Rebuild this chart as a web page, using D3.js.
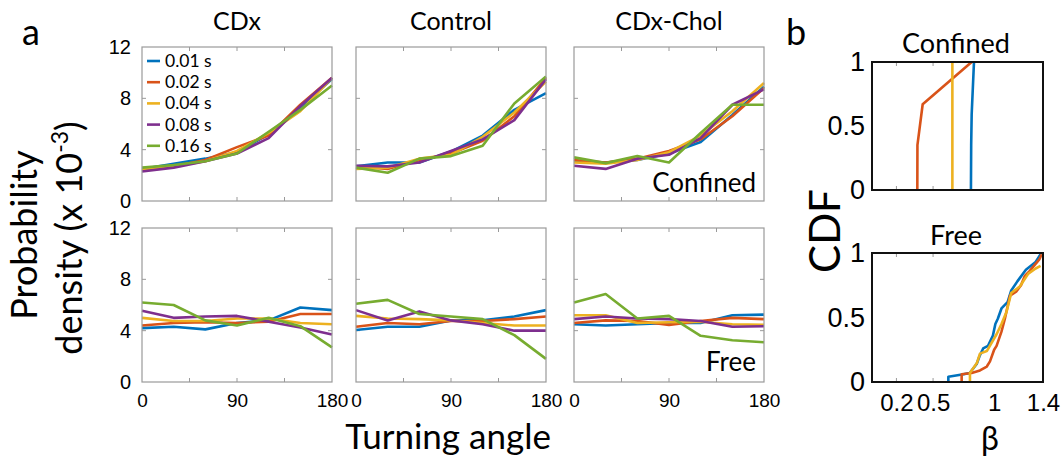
<!DOCTYPE html>
<html>
<head>
<meta charset="utf-8">
<script src="https://cdn.jsdelivr.net/npm/d3@7"></script>
<style>
  body { margin: 0; background: #fff; }
  svg { font-family: Lato, "Open Sans", sans-serif; }
</style>
</head>
<body>
<script>
// turning angle bins (deg)
const angles = [0, 30, 60, 90, 120, 150, 180];
const lagLabels = ["0.01 s", "0.02 s", "0.04 s", "0.08 s", "0.16 s"];
const colors = ["#0072BD", "#D95319", "#EDB120", "#7E2F8E", "#77AC30"];
const groupTitles = ["CDx", "Control", "CDx-Chol"];

// probability density (x 10^-3), one row per lag
const cdxConfined = [
    [2.5, 2.9, 3.3, 3.8, 5.2, 7.3, 9.5],
    [2.4, 2.7, 3.2, 4.2, 5.1, 7.5, 9.6],
    [2.5, 2.7, 3.1, 3.9, 5.3, 7.0, 9.6],
    [2.3, 2.6, 3.1, 3.7, 4.9, 7.4, 9.6],
    [2.6, 2.8, 3.1, 3.7, 5.4, 7.1, 9.0]
];
const controlConfined = [
    [2.7, 3.0, 3.0, 3.85, 5.1, 7.1, 8.4],
    [2.7, 2.5, 3.2, 3.7, 4.7, 6.6, 9.6],
    [2.5, 2.6, 3.3, 3.6, 5.0, 6.9, 9.3],
    [2.75, 2.7, 3.0, 3.9, 4.8, 6.3, 9.5],
    [2.6, 2.2, 3.3, 3.5, 4.3, 7.6, 9.7]
];
const cholConfined = [
    [3.1, 3.0, 3.2, 3.7, 4.6, 6.7, 8.9],
    [3.2, 3.0, 3.3, 3.9, 4.8, 6.6, 8.8],
    [3.0, 2.9, 3.2, 3.8, 5.1, 7.0, 9.2],
    [2.75, 2.5, 3.3, 3.6, 4.9, 7.5, 8.7],
    [3.4, 2.95, 3.5, 3.0, 5.3, 7.5, 7.5]
];
const cdxFree = [
    [4.2, 4.3, 4.1, 4.6, 4.8, 5.8, 5.6],
    [4.4, 4.6, 4.65, 4.6, 4.7, 5.3, 5.3],
    [5.0, 4.75, 4.75, 4.95, 4.95, 4.6, 4.5],
    [5.55, 5.0, 5.1, 5.15, 4.7, 4.25, 3.7],
    [6.2, 6.0, 4.8, 4.4, 5.0, 4.35, 2.7]
];
const controlFree = [
    [4.05, 4.3, 4.3, 4.8, 4.8, 5.1, 5.6],
    [4.3, 4.6, 4.5, 4.75, 4.75, 4.9, 5.1],
    [5.15, 4.95, 4.9, 4.8, 4.6, 4.4, 4.4],
    [5.6, 4.8, 5.5, 4.8, 4.5, 4.0, 4.0],
    [6.1, 6.4, 5.3, 5.1, 4.9, 3.65, 1.8]
];
const cholFree = [
    [4.5, 4.4, 4.5, 4.6, 4.6, 5.2, 5.25],
    [4.6, 4.8, 4.75, 4.45, 4.75, 5.0, 4.9],
    [5.2, 5.2, 4.6, 4.65, 4.7, 4.5, 4.45],
    [4.9, 5.1, 4.95, 4.9, 4.75, 4.3, 4.35],
    [6.2, 6.85, 4.95, 5.15, 3.6, 3.25, 3.1]
];

const densityTicks = [0, 4, 8, 12];
const angleTicks = [0, 90, 180];

// CDF of beta, [beta, cdf] pairs
const cdfConfinedBlue = [[0.81, 0], [0.812, 0.35], [0.816, 0.59], [0.835, 1]];
const cdfConfinedOrange = [[0.371, 0], [0.372, 0.35], [0.415, 0.67], [0.816, 1]];
const cdfConfinedYellow = [[0.658, 0], [0.658, 1]];
const cdfFreeBlue = [[0.625, 0], [0.625, 0.04], [0.75, 0.06], [0.8, 0.07], [0.857, 0.14], [0.88, 0.2],
    [0.91, 0.26], [0.95, 0.28], [0.99, 0.36], [1.01, 0.45], [1.03, 0.49], [1.06, 0.57], [1.11, 0.62],
    [1.14, 0.71], [1.19, 0.78], [1.26, 0.87], [1.34, 0.93], [1.38, 0.99]];
const cdfFreeOrange = [[0.734, 0], [0.734, 0.06], [0.816, 0.07], [0.884, 0.09], [0.94, 0.12], [0.966, 0.16],
    [1.0, 0.25], [1.02, 0.28], [1.06, 0.39], [1.088, 0.49], [1.13, 0.67], [1.18, 0.70], [1.22, 0.75],
    [1.25, 0.82], [1.29, 0.86], [1.37, 0.95], [1.39, 0.99]];
const cdfFreeYellow = [[0.802, 0], [0.802, 0.07], [0.86, 0.15], [0.884, 0.22], [0.94, 0.24], [1.02, 0.37],
    [1.06, 0.45], [1.10, 0.54], [1.14, 0.69], [1.21, 0.74], [1.28, 0.84], [1.34, 0.88], [1.38, 0.90]];
const betaTicks = [0.2, 0.5, 1, 1.4];
const cdfTicks = [0, 0.5, 1];

const width = 1064;
const height = 456;

const svg = d3.select("body").append("svg")
    .attr("width", width)
    .attr("height", height);

const colLeft = [142, 356, 574];
const rowTop = [47, 228];
const pw = 190, ph = 154;

const panels = [
    [cdxConfined, controlConfined, cholConfined],
    [cdxFree, controlFree, cholFree]
];

function drawBox(g, w, h, color, sw) {
    g.append("rect")
        .attr("width", w).attr("height", h)
        .attr("fill", "none")
        .attr("stroke", color)
        .attr("stroke-width", sw);
}

function innerTicks(g, x, y, xt, yt, w, h, color) {
    // tick marks on all four sides, pointing inward
    const t = g.append("g").attr("stroke", color).attr("stroke-width", 1);
    xt.forEach(v => {
        t.append("line").attr("x1", x(v)).attr("x2", x(v)).attr("y1", h).attr("y2", h - 4);
        t.append("line").attr("x1", x(v)).attr("x2", x(v)).attr("y1", 0).attr("y2", 4);
    });
    yt.forEach(v => {
        t.append("line").attr("y1", y(v)).attr("y2", y(v)).attr("x1", 0).attr("x2", 4);
        t.append("line").attr("y1", y(v)).attr("y2", y(v)).attr("x1", w).attr("x2", w - 4);
    });
}

panels.forEach((row, r) => {
    row.forEach((series, c) => {
        const g = svg.append("g").attr("transform", `translate(${colLeft[c]},${rowTop[r]})`);
        const x = d3.scaleLinear().domain([0, 180]).range([0, pw]);
        const y = d3.scaleLinear().domain([0, 12]).range([ph, 0]);

        innerTicks(g, x, y, [45, 90, 135], [4, 8], pw, ph, "#9a9a9a");

        const line = d3.line().x((d, i) => x(angles[i])).y(d => y(d));
        series.forEach((s, k) => {
            g.append("path")
                .attr("d", line(s))
                .attr("fill", "none")
                .attr("stroke", colors[k])
                .attr("stroke-width", 2.6)
                .attr("stroke-linejoin", "round");
        });

        drawBox(g, pw, ph, "#9a9a9a", 1.2);

        if (c === 0) {
            const ya = g.append("g")
                .call(d3.axisLeft(y).tickValues(densityTicks).tickSize(0).tickPadding(11));
            ya.select(".domain").remove();
            ya.selectAll("text").attr("font-size", 20).attr("fill", "#000");
        }
        if (r === 1) {
            const xa = g.append("g")
                .attr("transform", `translate(0,${ph})`)
                .call(d3.axisBottom(x).tickValues(angleTicks).tickSize(0).tickPadding(12));
            xa.select(".domain").remove();
            xa.selectAll("text").attr("font-size", 19).attr("fill", "#000");
        }
        if (r === 0) {
            svg.append("text")
                .attr("x", colLeft[c] + pw / 2)
                .attr("y", 30)
                .attr("text-anchor", "middle")
                .attr("font-size", 25)
                .text(groupTitles[c]);
        }
    });
});

// legend in first panel
const legend = svg.append("g").attr("transform", `translate(${colLeft[0]},${rowTop[0]})`);
lagLabels.forEach((lab, k) => {
    const ly = 14 + k * 21.2;
    legend.append("line")
        .attr("x1", 5).attr("x2", 18).attr("y1", ly).attr("y2", ly)
        .attr("stroke", colors[k]).attr("stroke-width", 2.6);
    legend.append("text")
        .attr("x", 23).attr("y", ly + 6)
        .attr("font-size", 17.5)
        .text(lab);
});

svg.append("text").attr("x", colLeft[2] + pw - 8).attr("y", rowTop[0] + ph - 9)
    .attr("text-anchor", "end").attr("font-size", 26).text("Confined");
svg.append("text").attr("x", colLeft[2] + pw - 8).attr("y", rowTop[1] + ph - 11)
    .attr("text-anchor", "end").attr("font-size", 26).text("Free");

svg.append("text").attr("x", 448).attr("y", 449)
    .attr("text-anchor", "middle").attr("font-size", 35).text("Turning angle");

svg.append("text")
    .attr("transform", "translate(37,235) rotate(-90)")
    .attr("text-anchor", "middle").attr("font-size", 36).text("Probability");
const dl = svg.append("text")
    .attr("transform", "translate(82,238) rotate(-90)")
    .attr("text-anchor", "middle").attr("font-size", 36);
dl.append("tspan").text("density (x 10");
dl.append("tspan").attr("font-size", 23).attr("dy", -14).text("-3");
dl.append("tspan").attr("dy", 14).text(")");

svg.append("text").attr("x", 22).attr("y", 45).attr("font-size", 36).text("a");
svg.append("text").attr("x", 786).attr("y", 45).attr("font-size", 36).text("b");

// panel b
const bx = d3.scaleLinear().domain([0, 1.4]).range([0, 171]);
const bPanels = [
    { top: 62, h: 128, title: "Confined", titleY: 53, curves: [cdfConfinedBlue, cdfConfinedOrange, cdfConfinedYellow] },
    { top: 253, h: 129, title: "Free", titleY: 245, curves: [cdfFreeBlue, cdfFreeOrange, cdfFreeYellow] }
];
bPanels.forEach((p, i) => {
    const g = svg.append("g").attr("transform", `translate(872,${p.top})`);
    const by = d3.scaleLinear().domain([0, 1]).range([p.h, 0]);
    innerTicks(g, bx, by, [0.2, 0.5], [], 171, p.h, "#9a9a9a");
    const line = d3.line().x(d => bx(d[0])).y(d => by(d[1]));
    p.curves.forEach((cv, k) => {
        g.append("path").attr("d", line(cv))
            .attr("fill", "none").attr("stroke", colors[k])
            .attr("stroke-width", 2.6).attr("stroke-linejoin", "round");
    });
    drawBox(g, 171, p.h, "#111", 2);
    const ya = g.append("g").call(d3.axisLeft(by).tickValues(cdfTicks).tickFormat(d3.format("")).tickSize(0).tickPadding(7));
    ya.select(".domain").remove();
    ya.selectAll("text").attr("font-size", 27).attr("fill", "#000");
    if (i === 1) {
        const xa = g.append("g").attr("transform", `translate(0,${p.h})`)
            .call(d3.axisBottom(bx).tickValues(betaTicks).tickFormat(d3.format("")).tickSize(0).tickPadding(12));
        xa.select(".domain").remove();
        xa.selectAll("text").attr("font-size", 24).attr("fill", "#000");
    }
    svg.append("text").attr("x", 956).attr("y", p.titleY)
        .attr("text-anchor", "middle").attr("font-size", 27).text(p.title);
});

svg.append("text")
    .attr("transform", "translate(840,231) rotate(-90)")
    .attr("text-anchor", "middle").attr("font-size", 42).text("CDF");
svg.append("text").attr("x", 990).attr("y", 450)
    .attr("text-anchor", "middle").attr("font-size", 32).text("β");
</script>
</body>
</html>
